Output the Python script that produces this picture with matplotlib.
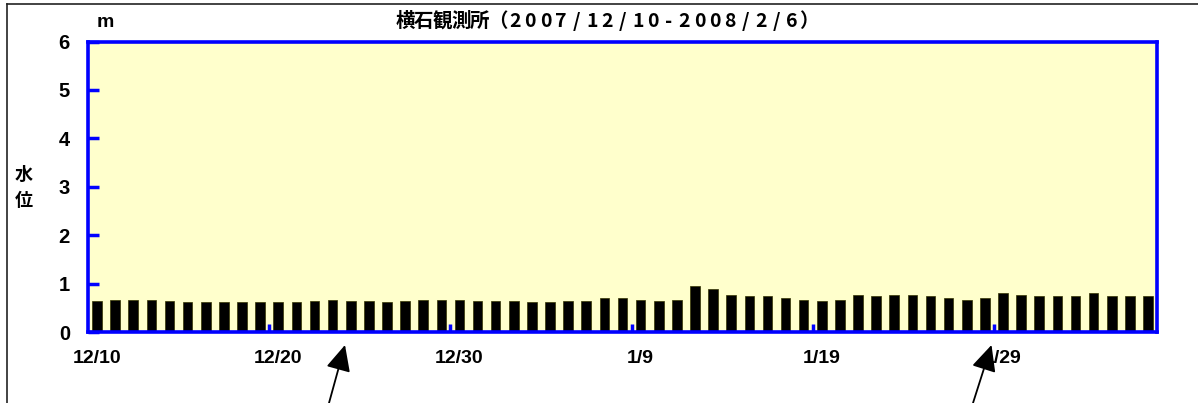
import pandas as pd
import numpy as np
import matplotlib
matplotlib.use('Agg')
import matplotlib.pyplot as plt

# ── DATA ──
dates = pd.date_range('2007-12-10', '2008-02-06', freq='D')
water_level = [
    0.64, 0.67, 0.67, 0.67, 0.64, 0.61, 0.61, 0.61, 0.61, 0.61,
    0.61, 0.61, 0.64, 0.67, 0.64, 0.64, 0.61, 0.64, 0.67, 0.67,
    0.67, 0.64, 0.64, 0.64, 0.61, 0.61, 0.64, 0.64, 0.70, 0.70,
    0.67, 0.64, 0.67, 0.96, 0.89, 0.77, 0.74, 0.74, 0.70, 0.67,
    0.64, 0.67, 0.77, 0.74, 0.77, 0.77, 0.74, 0.70, 0.67, 0.70,
    0.80, 0.77, 0.74, 0.74, 0.74, 0.80, 0.74, 0.74, 0.74]
y_ticks = [0, 1, 2, 3, 4, 5, 6]
label_idx = [0, 10, 20, 30, 40, 50]
x_labels = [f"{dates[i].month}/{dates[i].day}" for i in label_idx]
title = "横石観測所（2007/12/10-2008/2/6）"

BLUE = '#0000FF'
num_font = 'Liberation Sans'
jp_font = ['Noto Sans CJK JP', 'DejaVu Sans']

W, H = 1198, 403
fig = plt.figure(figsize=(W / 100, H / 100), dpi=100)
fig.patch.set_facecolor('white')

ax = fig.add_axes([88 / W, 1 - 332 / H, (1157 - 88) / W, (332 - 41.5) / H])
ax.set_facecolor('#FFFFCC')

x = np.arange(len(water_level))
ax.bar(x, water_level, width=0.53, color='black',
       edgecolor='#333300', linewidth=0.5, zorder=2)

ax.set_xlim(-0.5, len(water_level) - 0.5)
ax.set_ylim(0, 6)

for s in ax.spines.values():
    s.set_color(BLUE)
    s.set_linewidth(2.6)
    s.set_zorder(3)

ax.set_yticks(y_ticks)
ax.set_yticklabels([str(v) for v in y_ticks], fontsize=14.5,
                   fontweight='bold', family=num_font)
ax.tick_params(axis='y', direction='in', length=8, width=2.5,
               color=BLUE, pad=13)

ax.set_xticks(label_idx)
ax.set_xticklabels(x_labels, fontsize=14, fontweight='bold',
                   family=num_font)
ax.tick_params(axis='x', which='major', length=0, pad=13)
ax.set_xticks([i - 0.5 for i in label_idx[1:]], minor=True)
ax.tick_params(axis='x', which='minor', direction='in', length=6,
               width=2.5, color=BLUE)

# title, character by character (wide spacing like the original)
px = 396.0
for ch in title:
    cw = 18.5 if ord(ch) > 0x2000 else 15.4
    fig.text((px + cw / 2) / W, 1 - 21.5 / H, ch, ha='center',
             va='center', fontsize=14, fontweight='bold', family=jp_font)
    px += cw

fig.text(97 / W, 1 - 22.5 / H, 'm', ha='left', va='center',
         fontsize=14, fontweight='bold', family=num_font)
fig.text(24 / W, 1 - 174 / H, '水', ha='center', va='center',
         fontsize=13, fontweight='bold', family=jp_font)
fig.text(24 / W, 1 - 201 / H, '位', ha='center', va='center',
         fontsize=13, fontweight='bold', family=jp_font)

# outer frame (left and top edges visible)
fig.add_artist(plt.Line2D([6.5 / W, 6.5 / W], [0, 1 - 4 / H],
                          color='#222222', lw=1.2))
fig.add_artist(plt.Line2D([6.5 / W, 1], [1 - 4 / H, 1 - 4 / H],
                          color='#222222', lw=1.2))

# arrows from below
for tip, tail in [((345, H - 345), (329, 0)), ((991.5, H - 345), (973, 0))]:
    fig.add_artist(matplotlib.patches.FancyArrowPatch(
        tail, tip, transform=None,
        arrowstyle='-|>,head_length=0.8,head_width=0.38',
        mutation_scale=20, color='black', lw=1.3, shrinkA=0, shrinkB=0))

fig.savefig('out.png', dpi=100)
